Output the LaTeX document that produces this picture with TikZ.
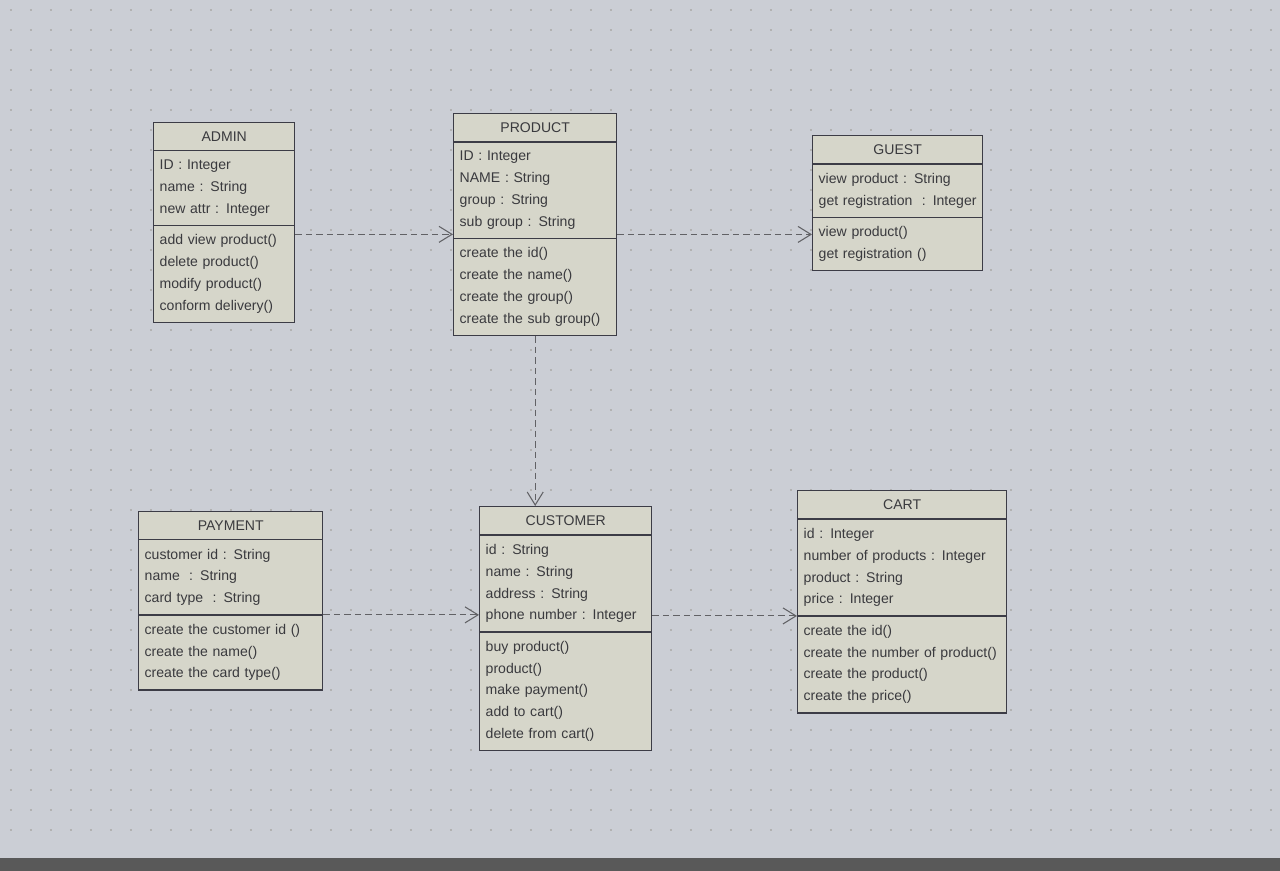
\documentclass[tikz,border=0pt]{standalone}
\usepackage{fontspec}
\setmainfont{Liberation Sans}
\usetikzlibrary{shapes.multipart,arrows.meta}

\definecolor{screen}{HTML}{CBCED5}
\definecolor{boxfill}{HTML}{D6D6CA}
\definecolor{boxline}{HTML}{3C3C46}
\definecolor{inkgray}{HTML}{3A3A3E}

\newcommand{\classtitle}[1]{\makebox[\hsize][c]{#1}}

\tikzset{
  umlclass/.style={rectangle split, rectangle split parts=3, draw=boxline,
    fill=boxfill, line width=0.8pt, inner xsep=0.12cm, inner ysep=0.17cm,
    align=left, anchor=north west, text=inkgray,
    font=\fontsize{8}{12.4}\selectfont},
  dep/.style={draw=inkgray!80, line width=0.6pt,
    dash pattern=on 0.13cm off 0.08cm,
    -{Straight Barb[length=2.6mm,width=3.2mm]}}
}

\begin{document}
\begin{tikzpicture}

\useasboundingbox (0,0) rectangle (25.6,-17.42);

% screen
\fill[screen] (0,0) rectangle (25.6,-17.42);
\fill[black!65] (0,-17.16) rectangle (25.6,-17.42);
\foreach \y in {0.2,0.6,...,17}
  \draw[gray!60, line width=1pt, dash pattern=on 0.04cm off 0.36cm] (0.2,-\y) -- (25.6,-\y);

% classes
\node[umlclass, text width=2.58cm] (admin) at (3.06,-2.44)
  {\classtitle{ADMIN}
   \nodepart{two} ID : Integer\\ name : String\\ new attr : Integer
   \nodepart{three} add view product()\\ delete product()\\ modify product()\\ conform delivery()};

\node[umlclass, text width=3.02cm] (product) at (9.06,-2.26)
  {\classtitle{PRODUCT}
   \nodepart{two} ID : Integer\\ NAME : String\\ group : String\\ sub group : String
   \nodepart{three} create the id()\\ create the name()\\ create the group()\\ create the sub group()};

\node[umlclass, text width=3.16cm] (guest) at (16.24,-2.70)
  {\classtitle{GUEST}
   \nodepart{two} view product : String\\ get registration \ : Integer
   \nodepart{three} view product()\\ get registration ()};

\node[umlclass, text width=3.44cm] (payment) at (2.76,-10.22)
  {\classtitle{PAYMENT}
   \nodepart{two} customer id : String\\ name \ : String\\ card type \ : String
   \nodepart{three} create the customer id ()\\ create the name()\\ create the card type()};

\node[umlclass, text width=3.20cm] (customer) at (9.58,-10.12)
  {\classtitle{CUSTOMER}
   \nodepart{two} id : String\\ name : String\\ address : String\\ phone number : Integer
   \nodepart{three} buy product()\\ product()\\ make payment()\\ add to cart()\\ delete from cart()};

\node[umlclass, text width=3.94cm] (cart) at (15.94,-9.80)
  {\classtitle{CART}
   \nodepart{two} id : Integer\\ number of products : Integer\\ product : String\\ price : Integer
   \nodepart{three} create the id()\\ create the number of product()\\ create the product()\\ create the price()};

% dependencies
\coordinate (adminout) at ([yshift=-0.18cm]admin.two split east);
\coordinate (productout) at ([yshift=0.08cm]product.two split east);
\draw[dep] (adminout) -- (product.west |- adminout);
\draw[dep] (productout) -- (guest.west |- productout);
\draw[dep] (product.south) -- (customer.north -| product.south);
\draw[dep] (payment.two split east) -- (customer.west |- payment.two split east);
\draw[dep] (customer.east |- cart.two split west) -- (cart.two split west);

\end{tikzpicture}
\end{document}
